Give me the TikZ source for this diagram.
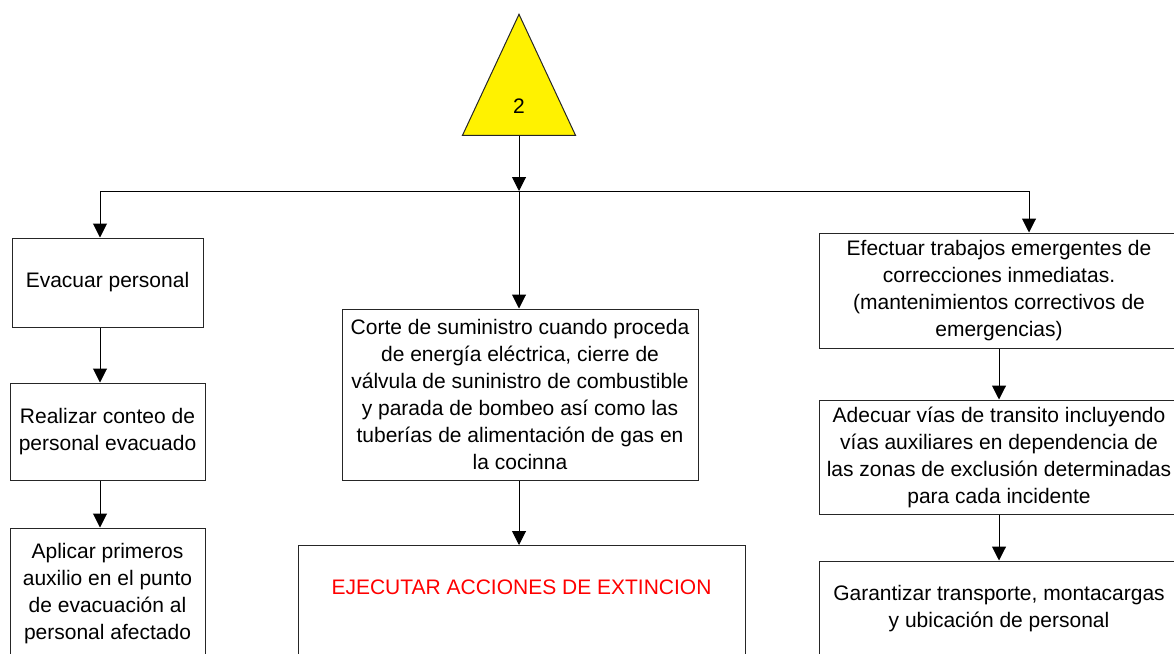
\documentclass[tikz,border=0pt]{standalone}
\usepackage{fontspec}
\setmainfont{Liberation Sans}
\usepackage{xcolor}
\usetikzlibrary{arrows.meta,shapes.geometric}

\begin{document}
\begin{tikzpicture}[x=1pt,y=-1pt,>={Triangle[length=14pt,width=14pt]},line width=1pt,
  font=\fontsize{21}{27}\selectfont,
  paso/.style={draw=black!85,fill=white,align=center,inner sep=0pt},
  alerta/.style={draw=black!85,fill=yellow,isosceles triangle,isosceles triangle stretches,
    shape border rotate=90,minimum width=113pt,minimum height=121pt,inner sep=0pt}]
\clip (0,0) rectangle (1174,653);
\node[alerta,anchor=apex] (tri) at (519,13) {};
\node (num) at ([yshift=30pt]tri.lower side) {2};
\coordinate (ramal) at (519,191);
\coordinate (izq) at (100,191);
\coordinate (der) at (1029,191);
% columna izquierda
\node[paso,minimum width=191pt,minimum height=89pt] (evac) at (107.5,282.5) {Evacuar personal};
\node[paso,minimum width=195pt,minimum height=97pt] (conteo) at (107.5,431.5) {Realizar conteo de\\personal evacuado};
\node[paso,minimum width=195pt,minimum height=132pt] (auxilio) at (107.5,594) {Aplicar primeros\\auxilio en el punto\\de evacuación al\\personal afectado};
% columna central
\node[paso,minimum width=356pt,minimum height=171pt] (corte) at (520,394.5) {Corte de suministro cuando proceda\\de energía eléctrica, cierre de\\válvula de suninistro de combustible\\y parada de bombeo así como las\\tuberías de alimentación de gas en\\la cocinna};
\node[paso,anchor=north,minimum width=447pt,inner ysep=33.5pt,text height=15pt,text depth=100pt,text=red] (ejec) at (521.5,545) {EJECUTAR ACCIONES DE EXTINCION};
% columna derecha
\node[paso,minimum width=360pt,minimum height=115pt] (efect) at (999,290.5) {Efectuar trabajos emergentes de\\correcciones inmediatas.\\(mantenimientos correctivos de\\emergencias)};
\node[paso,minimum width=360pt,minimum height=114pt] (adecuar) at (999,457) {Adecuar vías de transito incluyendo\\vías auxiliares en dependencia de\\las zonas de exclusión determinadas\\para cada incidente};
\node[paso,minimum width=360pt,minimum height=95pt] (garant) at (999,608.5) {Garantizar transporte, montacargas\\y ubicación de personal};
% conectores
\draw[->] (tri.lower side) -- (ramal);
\draw (izq) -- (der);
\draw[->] (izq) -- (evac.north -| izq);
\draw[->] (ramal) -- (ramal |- corte.north);
\draw[->] (der) -- (efect.north -| der);
\draw[->] (corte.south -| ramal) -- (ejec.north -| ramal);
\foreach \a/\b in {evac/conteo,conteo/auxilio}
  \draw[->] (\a.south -| izq) -- (\b.north -| izq);
\foreach \a/\b in {efect/adecuar,adecuar/garant}
  \draw[->] (\a) -- (\b);
\end{tikzpicture}
\end{document}
